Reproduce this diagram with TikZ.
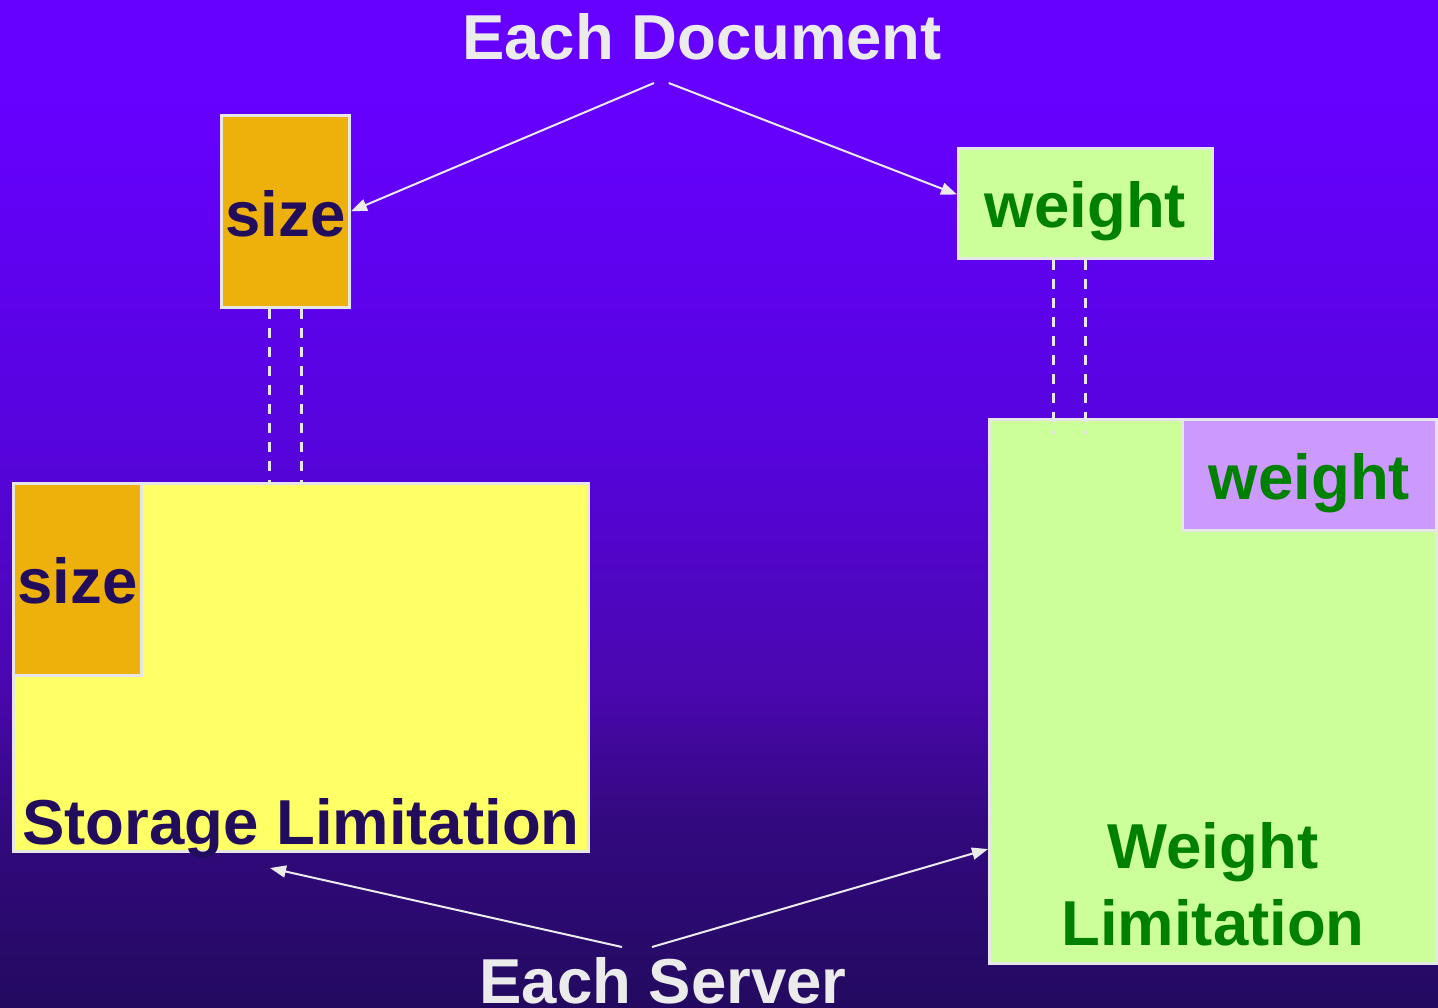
\documentclass[tikz,border=0pt]{standalone}
\usepackage{fontspec}
\setmainfont{Liberation Sans}
\usetikzlibrary{arrows.meta}

% palette
\definecolor{bgA}{HTML}{6600FF}
\definecolor{bgB}{HTML}{5604DC}
\definecolor{bgC}{HTML}{4A07AE}
\definecolor{bgD}{HTML}{33097F}
\definecolor{bgE}{HTML}{230A60}
\definecolor{ink}{HTML}{EBEBEB}
\definecolor{rim}{HTML}{E6E6E6}
\definecolor{amber}{HTML}{EEB10B}
\definecolor{navy}{HTML}{220C5C}
\definecolor{lemon}{HTML}{FFFF66}
\definecolor{mint}{HTML}{CCFF99}
\definecolor{lilac}{HTML}{CC99FF}
\definecolor{leaf}{HTML}{008000}

\begin{document}
\begin{tikzpicture}[x=1pt,y=-1pt,
  box/.style={draw=rim, line width=3pt, inner sep=0pt, rectangle},
  word/.style={font=\fontsize{63.5}{77}\selectfont\bfseries, inner sep=0pt, anchor=base},
  link/.style={draw=ink, line width=2pt, -{Triangle[length=16pt,width=12pt]}},
  tie/.style={draw=rim, line width=3pt, dash pattern=on 10pt off 9pt}]

  \useasboundingbox (0,0) rectangle (1438,1007);

  % background: vertical fade from violet to deep indigo
  \fill[bgA] (0,0) rectangle (1438,100.5);
  \shade[top color=bgA, bottom color=bgB] (0,100) rectangle (1438,450.5);
  \shade[top color=bgB, bottom color=bgC] (0,450) rectangle (1438,690.5);
  \shade[top color=bgC, bottom color=bgD] (0,690) rectangle (1438,820.5);
  \shade[top color=bgD, bottom color=bgE] (0,820) rectangle (1438,1007);

  % server containers
  \node[box, fill=mint, minimum width=447pt, minimum height=544pt] (wBig) at (1213,691.5) {};
  \node[box, fill=lilac, minimum width=254pt, minimum height=111pt] (wIn) at (1309,475) {};
  \node[box, fill=lemon, minimum width=575pt, minimum height=368pt] (store) at (301,667.5) {};
  \node[box, fill=amber, minimum width=128pt, minimum height=192pt] (sizeIn) at (77.5,579.5) {};

  % document attributes
  \node[box, fill=amber, minimum width=128pt, minimum height=192pt] (sizeTop) at (285.5,211.25) {};
  \node[box, fill=mint, minimum width=254pt, minimum height=110pt] (wTop) at (1085.5,203.5) {};

  % dashed ties from each attribute down to its container
  \draw[tie] ([xshift=-16pt]sizeTop.south) -- ([xshift=-16pt]sizeTop.south |- store.north);
  \draw[tie] ([xshift=16pt]sizeTop.south) -- ([xshift=16pt]sizeTop.south |- store.north);
  \draw[tie] ([xshift=-32.5pt]wTop.south) -- ([xshift=-32.5pt,yshift=-16pt]wTop.south |- wBig.north);
  \draw[tie] ([xshift=-0.5pt]wTop.south) -- ([xshift=-0.5pt,yshift=-16pt]wTop.south |- wBig.north);

  % arrow ends below the titles
  \coordinate (docL) at (654,83);
  \coordinate (docR) at (668.7,83);
  \coordinate (srvL) at (622,947);
  \coordinate (srvR) at (652,947);
  \coordinate (storeTip) at (270,868);

  \draw[link] (docL) -- (sizeTop.east);
  \draw[link] (docR) -- (wTop.176);
  \draw[link] (srvL) -- (storeTip);
  \draw[link] (srvR) -- (wBig.215);

  % labels
  \node[word, text=ink] (docT) at (702,59) {Each Document};
  \node[word, text=navy] (sizeTopT) at (285.5,236) {size};
  \node[word, text=leaf] (wTopT) at (1085.5,227) {weight};
  \node[word, text=navy] (sizeInT) at (77.5,603) {size};
  \node[word, text=navy] (storeT) at (301,844) {Storage Limitation};
  \node[word, text=leaf] (wInT) at (1309.5,499) {weight};
  \node[word, text=leaf] (wBigT1) at (1213,868) {Weight};
  \node[word, text=leaf] (wBigT2) at (1213,945) {Limitation};
  \node[word, text=ink] (srvT) at (663,1003) {Each Server};
\end{tikzpicture}
\end{document}
